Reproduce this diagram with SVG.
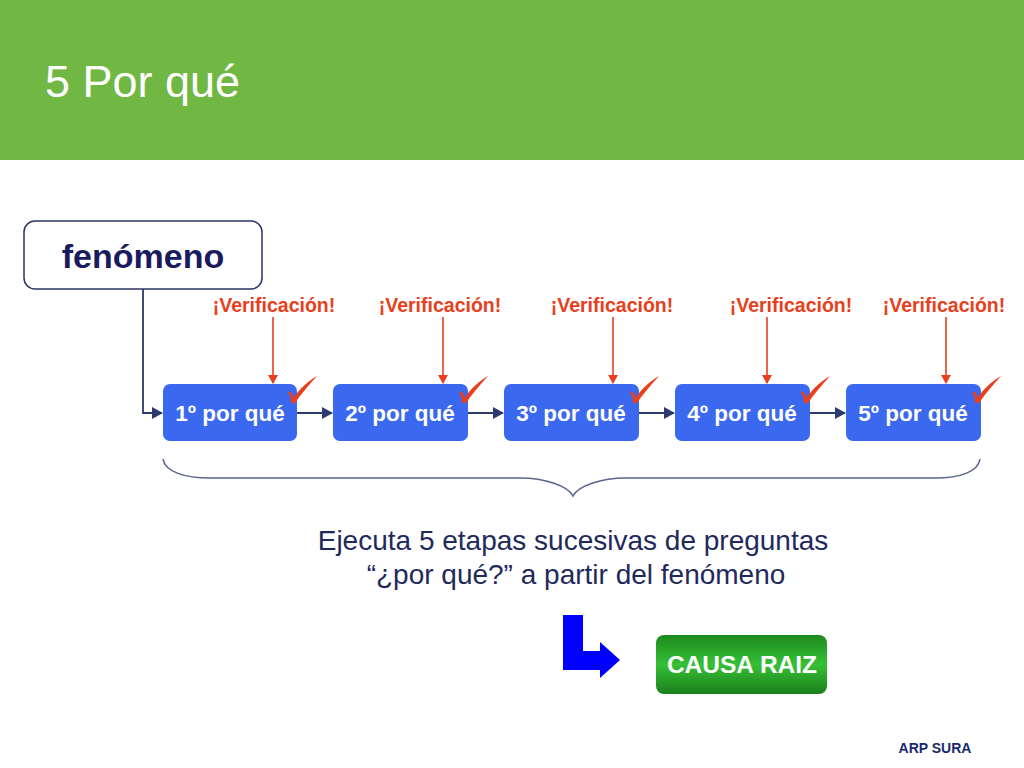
<svg xmlns="http://www.w3.org/2000/svg" width="1024" height="768" viewBox="0 0 1024 768">
<defs>
<style>
.box{fill:#3a68ee;}
.boxt{font-family:"Liberation Sans",Arial,sans-serif;font-weight:bold;font-size:22.5px;fill:#fff;text-anchor:middle;}
.ver{font-family:"Liberation Sans",Arial,sans-serif;font-weight:bold;font-size:19.5px;fill:#e8401c;text-anchor:middle;}
.rl{stroke:#e8401c;stroke-width:1.6;fill:none;marker-end:url(#ra);}
.nl{stroke:#2c3a6e;stroke-width:1.8;fill:none;marker-end:url(#na);}
.chk{fill:#e8401c;}
</style>
<marker id="ra" markerWidth="10" markerHeight="10" refX="8" refY="5" orient="auto" markerUnits="userSpaceOnUse">
<path d="M0,0 L9,5 L0,10 z" fill="#e8401c"/>
</marker>
<marker id="na" markerWidth="12" markerHeight="12" refX="10" refY="6" orient="auto" markerUnits="userSpaceOnUse">
<path d="M0,0 L11,6 L0,12 z" fill="#2c3a6e"/>
</marker>
<linearGradient id="gg" x1="0" y1="0" x2="0" y2="1">
<stop offset="0" stop-color="#1e8a1e"/>
<stop offset="0.5" stop-color="#35c035"/>
<stop offset="1" stop-color="#1a7f1a"/>
</linearGradient>
<path id="check" d="M0,0 C3,-1 5,2 6,6 C11,-3 19,-10 29,-16 C21,-7 13,2 7,11 L3,11 C3,6 2,3 0,0 z"/>
</defs>
<rect x="0" y="0" width="1024" height="768" fill="#fff"/>
<g id="header">
<rect x="0" y="0" width="1024" height="160" fill="#70b843"/>
<text x="45" y="97" font-family="Liberation Sans,Arial,sans-serif" font-size="45" fill="#fff">5 Por qué</text>
</g>
<g id="fenomeno">
<rect x="24" y="221" width="238" height="68" rx="11" fill="#fff" stroke="#2c3565" stroke-width="1.5"/>
<text x="143" y="268" font-family="Liberation Sans,Arial,sans-serif" font-weight="bold" font-size="34" fill="#1a1a5e" text-anchor="middle">fenómeno</text>
</g>
<g id="connectors">
<path class="nl" d="M143,289 V413 H162"/>
<path class="nl" d="M297,413 H332"/>
<path class="nl" d="M468,413 H503"/>
<path class="nl" d="M639,413 H674"/>
<path class="nl" d="M810,413 H845"/>
<path class="rl" d="M273,317 V383"/>
<path class="rl" d="M443,317 V383"/>
<path class="rl" d="M613,317 V383"/>
<path class="rl" d="M767,317 V383"/>
<path class="rl" d="M946,317 V383"/>
</g>
<g id="ver1"><text class="ver" x="274" y="312">¡Verificación!</text></g>
<g id="ver2"><text class="ver" x="440" y="312">¡Verificación!</text></g>
<g id="ver3"><text class="ver" x="612" y="312">¡Verificación!</text></g>
<g id="ver4"><text class="ver" x="791" y="312">¡Verificación!</text></g>
<g id="ver5"><text class="ver" x="944" y="312">¡Verificación!</text></g>
<g id="q1"><rect class="box" x="163" y="384" width="134" height="57" rx="7"/><text class="boxt" x="230" y="421">1º por qué</text><use href="#check" class="chk" x="288" y="392"/></g>
<g id="q2"><rect class="box" x="333" y="384" width="135" height="57" rx="7"/><text class="boxt" x="400" y="421">2º por qué</text><use href="#check" class="chk" x="459" y="392"/></g>
<g id="q3"><rect class="box" x="504" y="384" width="135" height="57" rx="7"/><text class="boxt" x="571" y="421">3º por qué</text><use href="#check" class="chk" x="630" y="392"/></g>
<g id="q4"><rect class="box" x="675" y="384" width="135" height="57" rx="7"/><text class="boxt" x="742" y="421">4º por qué</text><use href="#check" class="chk" x="801" y="392"/></g>
<g id="q5"><rect class="box" x="846" y="384" width="135" height="57" rx="7"/><text class="boxt" x="913" y="421">5º por qué</text><use href="#check" class="chk" x="972" y="392"/></g>
<g id="brace">
<path d="M163,459 C165,472 185,478 210,478 H520 C545,478 568,486 573,496 C578,486 601,478 626,478 H935 C960,478 978,472 980,459" fill="none" stroke="#5a6590" stroke-width="1.6"/>
</g>
<g id="desc">
<text x="573" y="550" font-family="Liberation Sans,Arial,sans-serif" font-size="28" fill="#1f2a5c" text-anchor="middle">Ejecuta 5 etapas sucesivas de preguntas</text>
<text x="576" y="584" font-family="Liberation Sans,Arial,sans-serif" font-size="28" fill="#1f2a5c" text-anchor="middle">“¿por qué?” a partir del fenómeno</text>
</g>
<g id="larrow">
<path d="M563,615 H583 V651 H600 V642 L620,660 L600,678 V670 H563 z" fill="#0000ff"/>
</g>
<g id="causa">
<rect x="656" y="635" width="171" height="59" rx="8" fill="url(#gg)"/>
<text x="742" y="673" font-family="Liberation Sans,Arial,sans-serif" font-weight="bold" font-size="24.5" fill="#fff" text-anchor="middle">CAUSA RAIZ</text>
</g>
<g id="footer">
<text x="935" y="753" font-family="Liberation Sans,Arial,sans-serif" font-weight="bold" font-size="14" fill="#1a2a6e" text-anchor="middle">ARP SURA</text>
</g>
</svg>
